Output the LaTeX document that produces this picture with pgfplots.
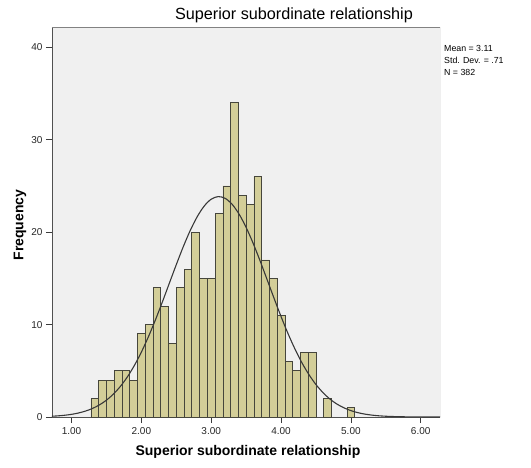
\documentclass[border=0pt]{standalone}
\usepackage{fontspec}
\setmainfont{Liberation Sans}
\usepackage{pgfplots}
\pgfplotsset{compat=1.18}
\definecolor{plotbg}{RGB}{240,240,240}
\definecolor{barfill}{RGB}{211,206,152}
\definecolor{baredge}{RGB}{70,70,60}
\definecolor{framec}{RGB}{130,130,130}
\definecolor{axisc}{RGB}{80,80,80}
\definecolor{tickc}{RGB}{60,60,60}
\begin{document}
\begin{tikzpicture}
\useasboundingbox (-52bp,-51bp) rectangle (479bp,417bp);
\begin{axis}[
  scale only axis,
  width=388bp, height=390bp,
  xmin=0.72, xmax=6.276,
  ymin=0, ymax=42.2,
  axis background/.style={fill=plotbg},
  axis line style={axisc, line width=0.9pt},
  axis x line*=bottom, axis y line*=left,
  xtick={1,2,3,4,5,6},
  xticklabels={1.00,2.00,3.00,4.00,5.00,6.00},
  ytick={0,10,20,30,40},
  tick align=outside,
  major tick length=6bp,
  tick style={tickc, line width=0.7pt},
  ticklabel style={font=\fontsize{10bp}{11bp}\selectfont, text=black!85},
  /pgf/number format/assume math mode=true,
  xticklabel style={yshift=-1bp},
  clip=true,
]
\draw[framec, line width=0.8pt] (rel axis cs:0,1) -- (rel axis cs:1,1) -- (rel axis cs:1,0);
\addplot[ybar, bar width=0.11111, fill=barfill, draw=baredge, line width=0.7pt]
coordinates {
(1.3333,2) (1.4444,4) (1.5556,4) (1.6667,5) (1.7778,5) (1.8889,4)
(2.0000,9) (2.1111,10) (2.2222,14) (2.3333,12) (2.4444,8) (2.5556,14)
(2.6667,16) (2.7778,20) (2.8889,15) (3.0000,15) (3.1111,22) (3.2222,25)
(3.3333,34) (3.4444,24) (3.5556,23) (3.6667,26) (3.7778,17) (3.8889,15)
(4.0000,11) (4.1111,6) (4.2222,5) (4.3333,7) (4.4444,7)
(4.6667,2) (5.0000,1)
};
\addplot[smooth, color=black!78, line width=1.1pt, mark=none]
coordinates {
(0.7,0.075) (0.8,0.120) (0.9,0.188) (1.0,0.288) (1.1,0.434) (1.2,0.640)
(1.3,0.925) (1.4,1.312) (1.5,1.824) (1.6,2.485) (1.7,3.320) (1.8,4.348)
(1.9,5.583) (2.0,7.027) (2.1,8.672) (2.2,10.49) (2.3,12.44) (2.4,14.47)
(2.5,16.49) (2.6,18.43) (2.7,20.19) (2.8,21.68) (2.9,22.83) (3.0,23.57)
(3.1,23.85) (3.2,23.66) (3.3,23.01) (3.4,21.94) (3.5,20.51) (3.6,18.80)
(3.7,16.89) (3.8,14.87) (3.9,12.84) (4.0,10.87) (4.1,9.02) (4.2,7.34)
(4.3,5.85) (4.4,4.58) (4.5,3.51) (4.6,2.64) (4.7,1.94) (4.8,1.40)
(4.9,0.994) (5.0,0.690) (5.1,0.469) (5.2,0.313) (5.3,0.205) (5.4,0.131)
(5.5,0.083) (5.6,0.051) (5.8,0.018) (6.0,0.006) (6.3,0.001)
};
\end{axis}
\node[font=\fontsize{16.2bp}{18bp}\selectfont] at (242bp,402bp) {Superior subordinate relationship};
\node[font=\bfseries\fontsize{14bp}{16bp}\selectfont] at (196bp,-35bp) {Superior subordinate relationship};
\node[font=\bfseries\fontsize{14bp}{16bp}\selectfont, rotate=90] at (-32bp,192bp) {Frequency};
\node[font=\fontsize{8.8bp}{12bp}\selectfont, anchor=north west, align=left, inner sep=0pt] at (392bp,372bp) {Mean = 3.11\\Std. Dev. = .71\\N = 382};
\end{tikzpicture}
\end{document}
